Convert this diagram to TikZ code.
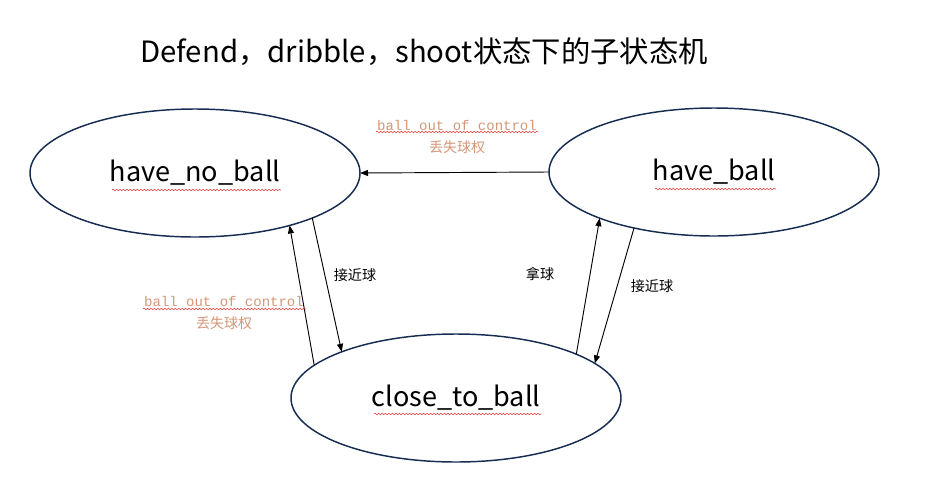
\documentclass[tikz,border=0pt]{standalone}
\usepackage{fontspec}
\setmainfont{Noto Sans CJK SC}
\setmonofont{Liberation Mono}
\newfontfamily\cjk{Noto Sans CJK SC}
\usetikzlibrary{arrows.meta,shapes.geometric,decorations.pathmorphing}

\definecolor{stateline}{RGB}{23,44,81}
\definecolor{labeltan}{RGB}{212,150,118}
\definecolor{spellred}{RGB}{235,60,60}

\begin{document}
\begin{tikzpicture}[x=0.75pt,y=-0.75pt,
  state/.style={ellipse,draw=stateline,line width=1.1pt,inner sep=0pt,outer sep=0pt,
    minimum width=247.5pt,minimum height=96pt,font=\fontsize{20.3}{24}\selectfont},
  trans/.style={-{Triangle[length=6pt,width=4.5pt]},line width=0.7pt,black},
  lostlbl/.style={text=labeltan,align=center,font=\fontsize{10.5}{17}\selectfont},
  note/.style={font=\fontsize{10.6}{12}\selectfont},
  spellmark/.style={spellred,line width=0.4pt,decorate,
    decoration={snake,amplitude=0.6pt,segment length=2.6pt}}]

\useasboundingbox (0,0) rectangle (926,490);

% Title
\node (title) at (424,52) {\fontsize{22}{26}\selectfont Defend，dribble，shoot状态下的子状态机};

% States
\node[state] (noball) at (195,173) {have\_no\_ball};
\node[state] (haveball) at (714,172) {have\_ball};
\node[state] (close) at (456,398) {close\_to\_ball};

% Transitions
\draw[trans] (haveball.180) -- (noball.0);
\draw[trans] (noball.-21) -- (close.158.5);
\draw[trans] (close.167) -- (noball.-29.5);
\draw[trans] (close.20.4) -- (haveball.-158.8);
\draw[trans] (haveball.-145.7) -- (close.14.5);

% Transition labels
\node[lostlbl] (losttop) at (457,137) {\texttt{ball out of control}\\丢失球权};
\node[lostlbl] (lostleft) at (224,313) {\texttt{ball out of control}\\丢失球权};
\node[note] (near1) at (355,275) {接近球};
\node[note] (grab) at (540,274) {拿球};
\node[note] (near2) at (652,286) {接近球};

% Spell-check marks
\draw[spellmark] (112,190) -- (281,190);
\draw[spellmark] (655,189) -- (776,189);
\draw[spellmark] (374,414) -- (541,414);
\draw[spellmark] (376,132) -- (538,132);
\draw[spellmark] (143,309) -- (306,309);

\end{tikzpicture}
\end{document}
